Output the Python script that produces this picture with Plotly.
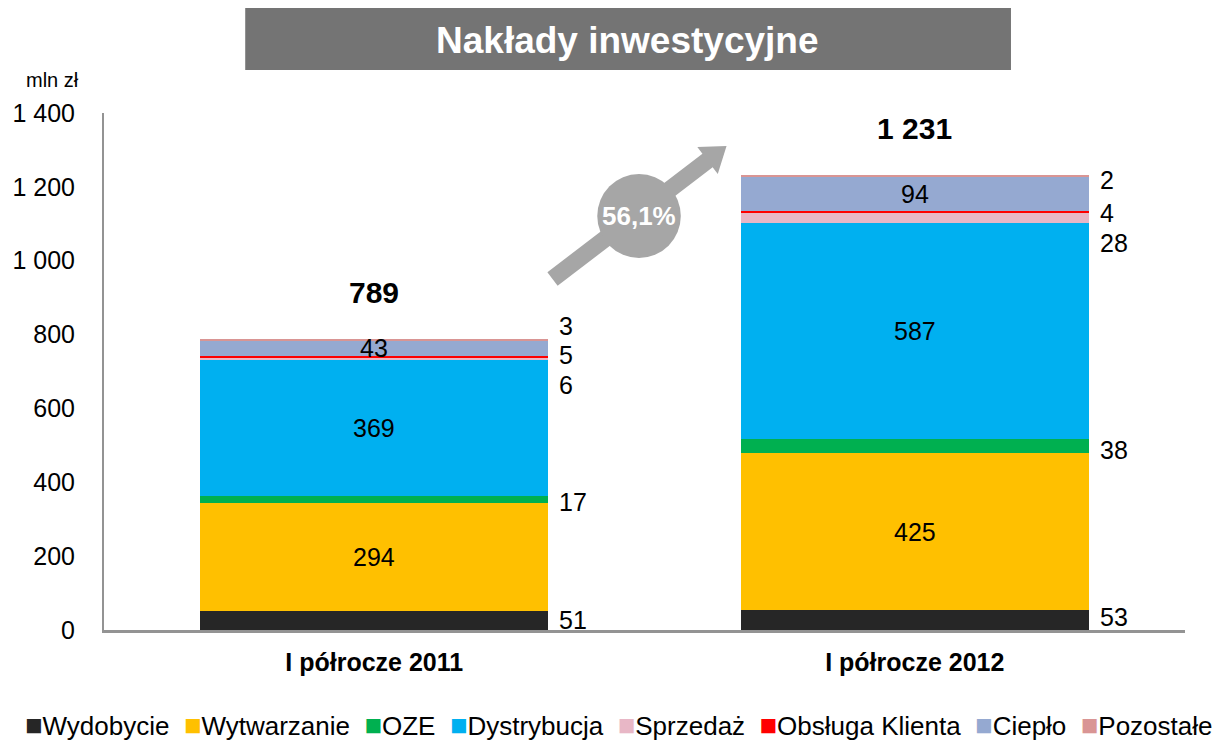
import math
import plotly.graph_objects as go

# ---------------- data ----------------
categories = ["I półrocze 2011", "I półrocze 2012"]
series_names = ["Wydobycie", "Wytwarzanie", "OZE", "Dystrybucja",
                "Sprzedaż", "Obsługa Klienta", "Ciepło", "Pozostałe"]
wydobycie = [51, 53]
wytwarzanie = [294, 425]
oze = [17, 38]
dystrybucja = [369, 587]
sprzedaz = [6, 28]
obsluga_klienta = [5, 4]
cieplo = [43, 94]
pozostale = [3, 2]
totals = [789, 1231]
growth_label = "56,1%"
y_tick_vals = [0, 200, 400, 600, 800, 1000, 1200, 1400]
y_tick_text = ["0", "200", "400", "600", "800", "1 000", "1 200", "1 400"]

values = [wydobycie, wytwarzanie, oze, dystrybucja, sprzedaz,
          obsluga_klienta, cieplo, pozostale]

# ---------------- styles ----------------
colors = ["#262626", "#FFC000", "#00B050", "#00B0F0",
          "#E8B7C6", "#FF0000", "#95A9D1", "#D99594"]
inside_series = {"Wytwarzanie", "Dystrybucja", "Ciepło"}
# vertical pixel nudges of the outside labels (to avoid overlaps)
outside_shift = {
    (0, "Wydobycie"): 1, (0, "OZE"): -3, (0, "Sprzedaż"): -26,
    (0, "Obsługa Klienta"): 2, (0, "Pozostałe"): 14,
    (1, "Wydobycie"): 3, (1, "OZE"): -4, (1, "Sprzedaż"): -25,
    (1, "Obsługa Klienta"): -1, (1, "Pozostałe"): -4,
}
FONT = "Liberation Sans, Arial, sans-serif"
W, H = 1220, 743
ML, MR, MT, MB = 98, 35, 113, 113
PW, PH = W - ML - MR, H - MT - MB
BARGAP = 0.356


def px(x):
    return (x - ML) / PW


def py(y):
    return (H - MB - y) / PH


fig = go.Figure()
for name, vals, col in zip(series_names, values, colors):
    fig.add_trace(go.Bar(name=name, x=categories, y=vals,
                         marker=dict(color=col, line=dict(width=0)),
                         showlegend=False, hoverinfo="x+y+name"))

annotations = []
half_bar_px = (1 - BARGAP) * PW / len(categories) / 2
for ci, cat in enumerate(categories):
    cum = 0
    for name, vals in zip(series_names, values):
        v = vals[ci]
        mid = cum + v / 2
        cum += v
        if name in inside_series:
            annotations.append(dict(x=cat, y=mid, text=str(v), showarrow=False,
                                    font=dict(size=25, color="#000000", family=FONT),
                                    xanchor="center", yanchor="middle"))
        else:
            annotations.append(dict(x=cat, y=mid, text=str(v), showarrow=False,
                                    font=dict(size=25, color="#000000", family=FONT),
                                    xanchor="left", yanchor="middle",
                                    xshift=half_bar_px + 8,
                                    yshift=outside_shift.get((ci, name), 0)))
    annotations.append(dict(x=cat, y=totals[ci], text=f"{totals[ci]:,}".replace(",", " "),
                            showarrow=False, xanchor="center", yanchor="bottom",
                            yshift=28,
                            font=dict(size=30, color="#000000", family=FONT, weight="bold")))

# unit label
annotations.append(dict(xref="paper", yref="paper", x=px(46), y=py(80), text="mln zł",
                        showarrow=False, xanchor="center", yanchor="middle",
                        font=dict(size=20, color="#000000", family=FONT)))
# title
annotations.append(dict(xref="paper", yref="paper", x=px(624), y=py(40),
                        text="Nakłady inwestycyjne", showarrow=False,
                        xanchor="center", yanchor="middle",
                        font=dict(size=37, color="#FFFFFF", family=FONT, weight="bold")))
# growth label
annotations.append(dict(xref="paper", yref="paper", x=px(636), y=py(216),
                        text=growth_label, showarrow=False,
                        xanchor="center", yanchor="middle",
                        font=dict(size=26, color="#FFFFFF", family=FONT, weight="bold")))
# legend (custom, compact)
legend_text = "&nbsp; ".join(
    f"<span style='color:{c};font-size:29px'>■</span>{n}"
    for n, c in zip(series_names, colors))
annotations.append(dict(xref="paper", yref="paper", x=px(616), y=py(725),
                        text=legend_text, showarrow=False,
                        xanchor="center", yanchor="middle",
                        font=dict(size=26, color="#000000", family=FONT)))

# arrow geometry (pixels)
tx, ty = 549, 279
tipx, tipy = 724, 146
dx, dy = tipx - tx, tipy - ty
L = math.hypot(dx, dy)
ux, uy = dx / L, dy / L
nx, ny = -uy, ux
w, hh, hl = 8.5, 17, 24
bx, by = tipx - hl * ux, tipy - hl * uy
pts = [(tx + w * nx, ty + w * ny), (bx + w * nx, by + w * ny),
       (bx + hh * nx, by + hh * ny), (tipx, tipy),
       (bx - hh * nx, by - hh * ny), (bx - w * nx, by - w * ny),
       (tx - w * nx, ty - w * ny)]
path = "M " + " L ".join(f"{px(a):.5f},{py(b):.5f}" for a, b in pts) + " Z"

shapes = [
    dict(type="rect", xref="paper", yref="paper", x0=px(240), x1=px(1010),
         y0=py(70), y1=py(8), fillcolor="#747474", line=dict(width=0), layer="above"),
    dict(type="path", xref="paper", yref="paper", path=path,
         fillcolor="#A6A6A6", line=dict(width=0), layer="above"),
    dict(type="circle", xref="paper", yref="paper", x0=px(594), x1=px(678),
         y0=py(258), y1=py(174), fillcolor="#A6A6A6", line=dict(width=0), layer="above"),
]

fig.update_layout(
    barmode="stack", bargap=BARGAP,
    width=W, height=H,
    margin=dict(l=ML, r=MR, t=MT, b=MB, pad=0),
    paper_bgcolor="#FFFFFF", plot_bgcolor="#FFFFFF",
    font=dict(family=FONT, color="#000000"),
    annotations=annotations, shapes=shapes,
    showlegend=False,
)
fig.update_yaxes(range=[0, 1400], tickvals=y_tick_vals, ticktext=y_tick_text,
                 showgrid=False, zeroline=False, showline=True, linecolor="#939393",
                 linewidth=2, ticks="", ticklabelstandoff=22,
                 tickfont=dict(size=25, family=FONT, color="#000000"))
fig.update_xaxes(showgrid=False, showline=True, linecolor="#939393", linewidth=3,
                 ticks="", ticklabelstandoff=8,
                 tickfont=dict(size=25, family=FONT, color="#000000", weight="bold"))

fig.write_html("out.html", config={"displayModeBar": False},
               post_script="document.body.style.margin='0';"
                           "document.body.style.overflow='hidden';")
